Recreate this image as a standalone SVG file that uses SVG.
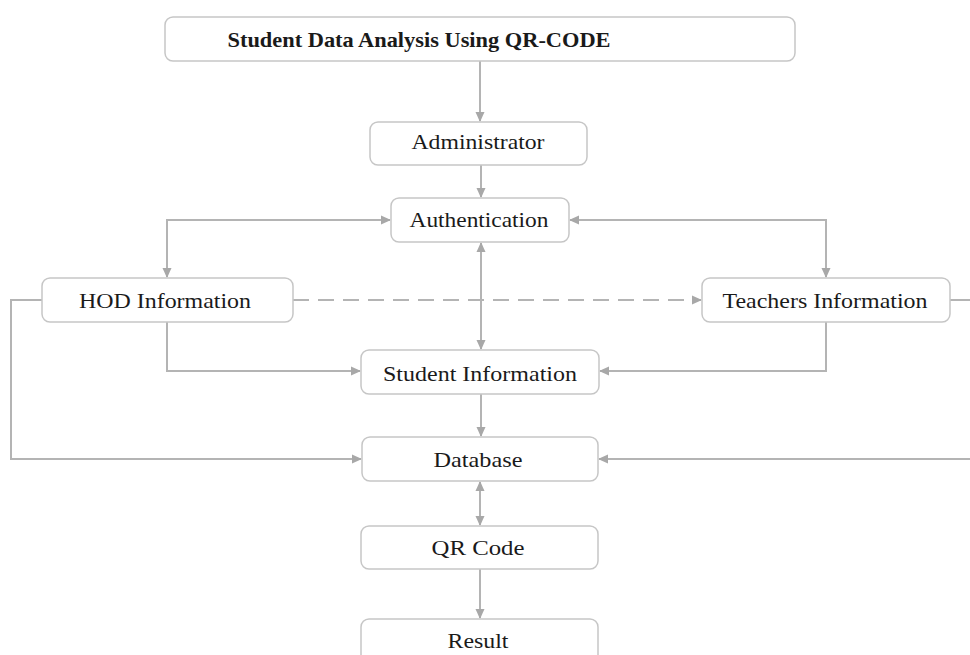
<svg xmlns="http://www.w3.org/2000/svg" width="970" height="655" viewBox="0 0 970 655">
<style>
.box{fill:#fff;stroke:#c6c6c6;stroke-width:1.5}
.t{font-family:"Liberation Serif","Times New Roman",serif;font-size:22px;fill:#1a1a1a;text-anchor:middle}
.c{fill:none;stroke:#b4b4b4;stroke-width:2}
</style>
<defs>
<marker id="a" markerWidth="10" markerHeight="10" refX="9" refY="5" orient="auto-start-reverse" markerUnits="userSpaceOnUse">
<path d="M0,0.5 L10,5 L0,9.5 Z" fill="#a8a8a8"/>
</marker>
</defs>
<rect width="970" height="655" fill="#fff"/>
<g id="connectors">
<path class="c" d="M480,61 V121" marker-end="url(#a)"/>
<path class="c" d="M481,165 V197" marker-end="url(#a)"/>
<path class="c" d="M167,277 V220 H390" marker-start="url(#a)" marker-end="url(#a)"/>
<path class="c" d="M826,277 V220 H570" marker-start="url(#a)" marker-end="url(#a)"/>
<path class="c" d="M293,300 H701" stroke-dasharray="16,9" marker-end="url(#a)"/>
<path class="c" d="M481,243 V349" marker-start="url(#a)" marker-end="url(#a)"/>
<path class="c" d="M167,322 V371 H360" marker-end="url(#a)"/>
<path class="c" d="M826,322 V371 H600" marker-end="url(#a)"/>
<path class="c" d="M42,300 H11 V459 H361" marker-end="url(#a)"/>
<path class="c" d="M950,300 H985 V459 H599" marker-end="url(#a)"/>
<path class="c" d="M481,394 V436" marker-end="url(#a)"/>
<path class="c" d="M480,482 V525" marker-start="url(#a)" marker-end="url(#a)"/>
<path class="c" d="M480,569 V618" marker-end="url(#a)"/>
</g>
<g id="title"><rect class="box" x="165" y="17" width="630" height="44" rx="8"/>
<text class="t" x="419" y="47" font-weight="bold" font-size="23" textLength="383" lengthAdjust="spacingAndGlyphs">Student Data Analysis  Using QR-CODE</text></g>
<g id="administrator"><rect class="box" x="370" y="122" width="217" height="43" rx="8"/>
<text class="t" x="478" y="149" textLength="133" lengthAdjust="spacingAndGlyphs">Administrator</text></g>
<g id="authentication"><rect class="box" x="391" y="198" width="178" height="44" rx="8"/>
<text class="t" x="479" y="227" textLength="139" lengthAdjust="spacingAndGlyphs">Authentication</text></g>
<g id="hod"><rect class="box" x="42" y="278" width="251" height="44" rx="8"/>
<text class="t" x="165" y="308" textLength="172" lengthAdjust="spacingAndGlyphs">HOD Information</text></g>
<g id="teachers"><rect class="box" x="702" y="278" width="248" height="44" rx="8"/>
<text class="t" x="825" y="308" textLength="205" lengthAdjust="spacingAndGlyphs">Teachers Information</text></g>
<g id="student"><rect class="box" x="361" y="350" width="238" height="44" rx="8"/>
<text class="t" x="480" y="381" textLength="194" lengthAdjust="spacingAndGlyphs">Student Information</text></g>
<g id="database"><rect class="box" x="362" y="437" width="236" height="44" rx="8"/>
<text class="t" x="478" y="467" textLength="89" lengthAdjust="spacingAndGlyphs">Database</text></g>
<g id="qrcode"><rect class="box" x="361" y="526" width="237" height="43" rx="8"/>
<text class="t" x="478" y="555" textLength="93" lengthAdjust="spacingAndGlyphs">QR Code</text></g>
<g id="result"><rect class="box" x="361" y="619" width="237" height="50" rx="8"/>
<text class="t" x="478" y="648" textLength="61" lengthAdjust="spacingAndGlyphs">Result</text></g>
</svg>
